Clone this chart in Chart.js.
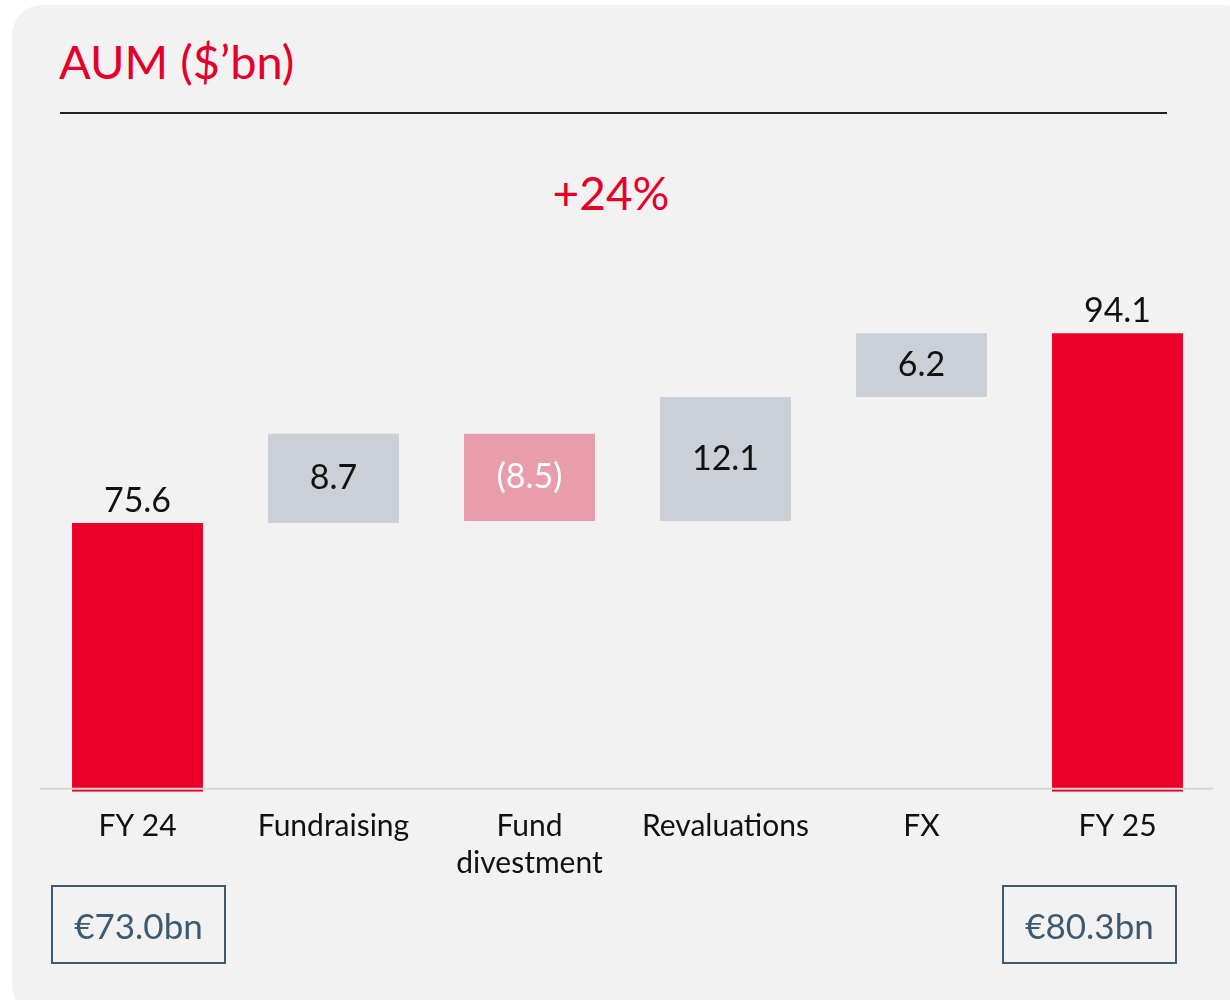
<!DOCTYPE html>
<html>
<head>
<meta charset="utf-8">
<script src="https://cdn.jsdelivr.net/npm/chart.js@4"></script>
<style>
  body { margin: 0; background: #ffffff; width: 1230px; height: 1000px; overflow: hidden; position: relative; font-family: Lato, "Open Sans", sans-serif; }
  .card { position: absolute; left: 12px; top: 5px; width: 1240px; height: 1010px; background: #f2f2f2; border-radius: 30px; }
  .title { position: absolute; left: 59px; top: 38px; margin: 0; font-size: 47px; font-weight: 400; color: #e4002b; line-height: 1; }
  .rule { position: absolute; left: 60px; top: 112px; width: 1107px; height: 2px; background: #222; }
  .growth { position: absolute; left: 0; width: 1222px; top: 170px; text-align: center; font-size: 46px; color: #e4002b; line-height: 1; }
  .eur { position: absolute; top: 885px; height: 79px; border: 2px solid #3d5a70; color: #3d5a70; font-size: 35px; display: flex; align-items: center; justify-content: center; box-sizing: border-box; }
  #wrap { position: absolute; left: 0; top: 0; width: 1230px; height: 1000px; }
</style>
</head>
<body>
<div class="card"></div>
<h1 class="title">AUM ($’bn)</h1>
<div class="rule"></div>
<div class="growth">+24%</div>
<div id="wrap"><canvas id="chart"></canvas></div>
<div class="eur" style="left:51px;width:175px;">€73.0bn</div>
<div class="eur" style="left:1002px;width:175px;">€80.3bn</div>

<script>
// ===== DATA =====
const categories = ["FY 24", "Fundraising", ["Fund", "divestment"], "Revaluations", "FX", "FY 25"];
const openingValue = 75.6;
const movements = [8.7, -8.5, 12.1, 6.2];
const closingValue = 94.1;

// ===== COLOURS =====
const RED = "#eb0029";
const GREY = "#cbd0d8";
const PINK = "#e89dac";

const AXIS_MIN = 49.4;
const AXIS_MAX = 103.2;

// build floating bars from the running total
let running = openingValue;
const bars = [[AXIS_MIN, openingValue]];
const colors = [RED];
const labels = [openingValue.toFixed(1)];
movements.forEach(m => {
  bars.push([running, running + m]);
  running += m;
  colors.push(m < 0 ? PINK : GREY);
  labels.push(m < 0 ? "(" + Math.abs(m).toFixed(1) + ")" : m.toFixed(1));
});
bars.push([AXIS_MIN, closingValue]);
colors.push(RED);
labels.push(closingValue.toFixed(1));

// ===== LABELS + BASELINE PLUGIN =====
const waterfallLabels = {
  id: "waterfallLabels",
  afterDatasetsDraw(chart) {
    const ctx = chart.ctx;
    const meta = chart.getDatasetMeta(0);
    const area = chart.chartArea;

    // baseline drawn over the bars
    ctx.save();
    ctx.strokeStyle = "#d6d6d6";
    ctx.lineWidth = 2;
    ctx.beginPath();
    ctx.moveTo(40, area.bottom - 3);
    ctx.lineTo(1213, area.bottom - 3);
    ctx.stroke();

    ctx.font = "34px Lato, 'Open Sans', sans-serif";
    ctx.textAlign = "center";
    ctx.textBaseline = "middle";
    meta.data.forEach((bar, i) => {
      const isTotal = i === 0 || i === meta.data.length - 1;
      if (isTotal) {
        ctx.fillStyle = "#111111";
        ctx.fillText(labels[i], bar.x, Math.min(bar.y, bar.base) - 22);
      } else {
        ctx.fillStyle = movements[i - 1] < 0 ? "#ffffff" : "#111111";
        ctx.fillText(labels[i], bar.x, (bar.y + bar.base) / 2);
      }
    });
    ctx.restore();
  }
};

new Chart(document.getElementById("chart"), {
  type: "bar",
  data: {
    labels: categories,
    datasets: [{
      data: bars,
      backgroundColor: colors,
      borderWidth: 0,
      barPercentage: 0.668,
      categoryPercentage: 1.0
    }]
  },
  options: {
    responsive: true,
    maintainAspectRatio: false,
    animation: false,
    layout: { padding: { left: 39.5, right: 14.5, top: 240, bottom: 101.5 } },
    plugins: { legend: { display: false }, tooltip: { enabled: false } },
    scales: {
      x: {
        grid: { display: false, drawTicks: false },
        border: { display: false },
        ticks: {
          color: "#111111",
          padding: 16.5,
          maxRotation: 0,
          autoSkip: false,
          font: { family: "Lato, 'Open Sans', sans-serif", size: 30, lineHeight: 1.23 }
        }
      },
      y: {
        display: false,
        min: AXIS_MIN,
        max: AXIS_MAX
      }
    }
  },
  plugins: [waterfallLabels]
});
</script>
</body>
</html>
